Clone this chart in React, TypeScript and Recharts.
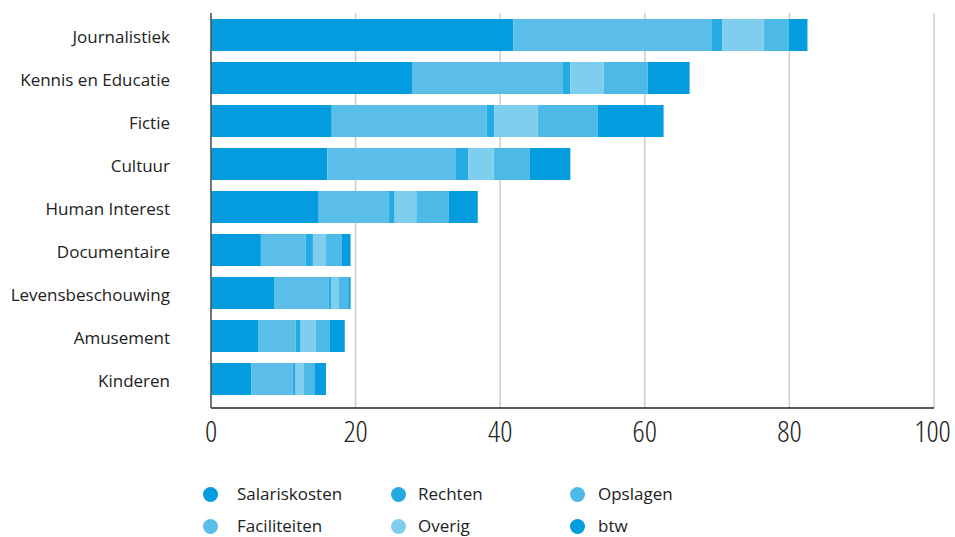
import { Bar, BarChart, CartesianGrid, XAxis, YAxis } from "recharts";

const categories = [
  "Journalistiek",
  "Kennis en Educatie",
  "Fictie",
  "Cultuur",
  "Human Interest",
  "Documentaire",
  "Levensbeschouwing",
  "Amusement",
  "Kinderen",
];

const salariskosten = [41.8, 27.8, 16.7, 16.1, 14.9, 6.9, 8.8, 6.5, 5.6];
const faciliteiten = [27.5, 20.8, 21.4, 17.7, 9.7, 6.2, 7.5, 5.2, 5.7];
const rechten = [1.4, 1.1, 1.1, 1.8, 0.8, 1.0, 0.3, 0.7, 0.4];
const overig = [5.8, 4.6, 6.0, 3.5, 3.0, 1.8, 1.1, 2.1, 1.1];
const opslagen = [3.4, 6.1, 8.3, 5.0, 4.5, 2.2, 1.3, 1.9, 1.5];
const btw = [2.6, 5.8, 9.1, 5.6, 4.0, 1.2, 0.3, 2.1, 1.6];

const xTicks = [0, 20, 40, 60, 80, 100];

const series = [
  { key: "Salariskosten", values: salariskosten, color: "#039ddf" },
  { key: "Faciliteiten", values: faciliteiten, color: "#5bbee8" },
  { key: "Rechten", values: rechten, color: "#26aae2" },
  { key: "Overig", values: overig, color: "#80ceed" },
  { key: "Opslagen", values: opslagen, color: "#4cb9e7" },
  { key: "btw", values: btw, color: "#039ddf" },
];

// legend reads column by column: 3 columns of 2
const legendColumns = [
  ["Salariskosten", "Faciliteiten"],
  ["Rechten", "Overig"],
  ["Opslagen", "btw"],
];

const data = categories.map((category, i) => {
  const row: Record<string, string | number> = { category };
  series.forEach((s) => {
    row[s.key] = s.values[i];
  });
  return row;
});

const font = "'Open Sans', 'Noto Sans', sans-serif";

function LegendBlock() {
  const dotX = [210, 398, 577];
  const textX = [237, 418, 598];
  return (
    <div style={{ position: "absolute", left: 0, top: 480, width: 955, height: 57, fontFamily: font, fontSize: 17, color: "#222" }}>
      {legendColumns.map((col, ci) =>
        col.map((name, ri) => {
          const s = series.find((x) => x.key === name)!;
          return (
            <div key={name}>
              <span
                style={{
                  position: "absolute",
                  left: dotX[ci] - 7.5,
                  top: ri * 32 + 6.5,
                  width: 15,
                  height: 15,
                  borderRadius: "50%",
                  background: s.color,
                }}
              />
              <span style={{ position: "absolute", left: textX[ci], top: ri * 32 + 1, lineHeight: "26px" }}>{name}</span>
            </div>
          );
        })
      )}
    </div>
  );
}

export default function App() {
  return (
    <div style={{ position: "absolute", left: 0, top: 0, width: 955, height: 537, background: "#fff" }}>
      <BarChart
        width={955}
        height={478}
        data={data}
        layout="vertical"
        barSize={32}
        barCategoryGap={0}
        margin={{ top: 13, right: 21, bottom: 0, left: 0 }}
      >
        <CartesianGrid horizontal={false} stroke="#cccccc" strokeWidth={1.5} />
        <XAxis
          type="number"
          domain={[0, 100]}
          ticks={xTicks}
          tickLine={false}
          tickSize={0}
          tickMargin={13}
          height={70}
          axisLine={{ stroke: "#222", strokeWidth: 1.5 }}
          tick={{ fontSize: 30, fontWeight: 300, fill: "#222", fontFamily: font, style: { fontStretch: "75%" } }}
        />
        <YAxis
          type="category"
          dataKey="category"
          width={211}
          padding={{ top: 0, bottom: 8 }}
          tickLine={false}
          tickSize={0}
          tickMargin={41}
          axisLine={{ stroke: "#555", strokeWidth: 1.5 }}
          tick={{ fontSize: 17, fill: "#222", fontFamily: font, dy: 2 }}
        />
        {series.map((s) => (
          <Bar key={s.key} dataKey={s.key} stackId="a" fill={s.color} isAnimationActive={false} />
        ))}
      </BarChart>
      <LegendBlock />
    </div>
  );
}
